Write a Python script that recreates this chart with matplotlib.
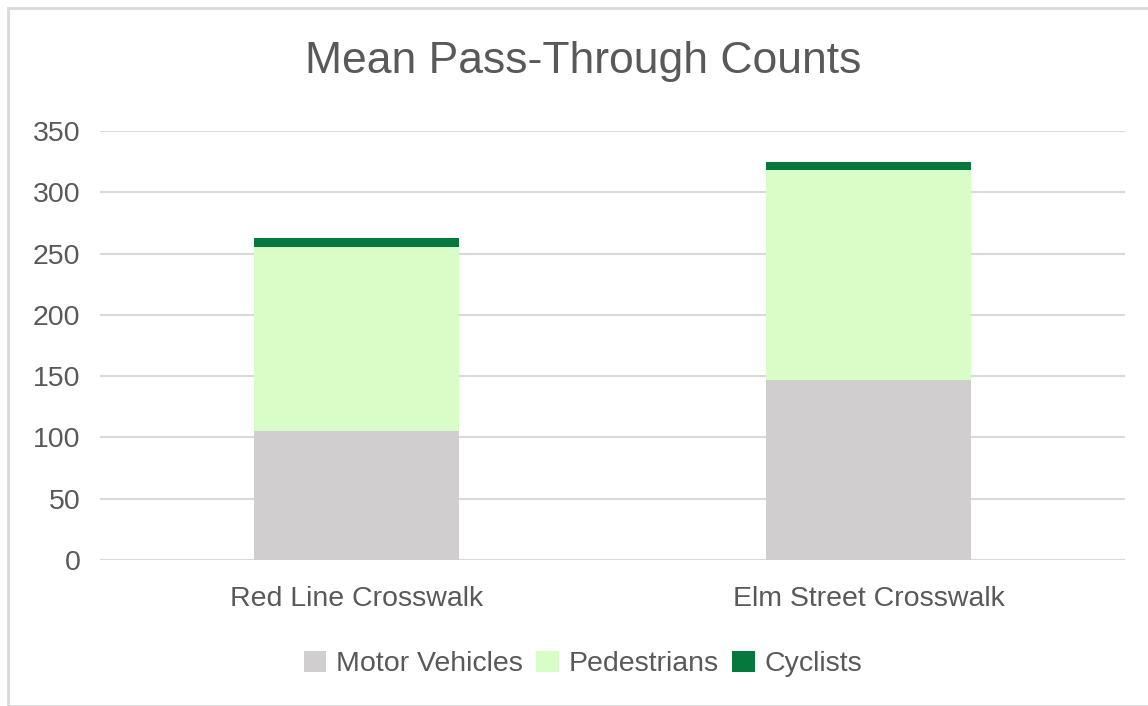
import matplotlib
matplotlib.use("Agg")
import matplotlib.pyplot as plt
from matplotlib.patches import Rectangle
import numpy as np

plt.rcParams['font.family'] = ['Liberation Sans', 'DejaVu Sans']

# data
categories = ["Red Line Crosswalk", "Elm Street Crosswalk"]
motor = [105, 147]
pedestrians = [150, 171]
cyclists = [8, 7]

text_color = '#595959'
grid_color = '#D9D9D9'

fig = plt.figure(figsize=(11.48, 7.06), dpi=100)
ax = fig.add_axes([100 / 1148, 1 - 560 / 706, 1025 / 1148, 429 / 706])

x = np.arange(len(categories))
w = 0.4
ax.bar(x, motor, w, color='#D0CECE', label='Motor Vehicles', zorder=3)
ax.bar(x, pedestrians, w, bottom=motor, color='#D8FDC6', label='Pedestrians', zorder=3)
bottom2 = [m + p for m, p in zip(motor, pedestrians)]
ax.bar(x, cyclists, w, bottom=bottom2, color='#06773D', label='Cyclists', zorder=3)

ax.set_xlim(-0.5, 1.5)
ax.set_ylim(0, 350)
ax.set_yticks(range(0, 351, 50))
ax.set_xticks(x)
ax.set_xticklabels(categories)
ax.yaxis.grid(True, color=grid_color, linewidth=1.5, zorder=0)
for s in ax.spines.values():
    s.set_visible(False)
ax.tick_params(axis='both', length=0, labelsize=20.5, labelcolor=text_color)
ax.tick_params(axis='x', pad=19)
ax.tick_params(axis='y', pad=14)

fig.text(583 / 1148, 1 - 61 / 706, "Mean Pass-Through Counts", ha='center', va='center',
         fontsize=32, color=text_color)

leg = fig.legend(loc='center', bbox_to_anchor=(583 / 1148, 1 - 664 / 706), ncol=3,
                 frameon=False, fontsize=20.5, handlelength=0.8, handleheight=0.8,
                 handletextpad=0.35, columnspacing=0.45, labelcolor=text_color)

# outer frame
fig.patches.append(Rectangle((8 / 1148, 0), 1.2, 1 - 8 / 706, transform=fig.transFigure,
                             fill=False, edgecolor='#D9D9D9', linewidth=2))

fig.savefig('out.png', dpi=100)
